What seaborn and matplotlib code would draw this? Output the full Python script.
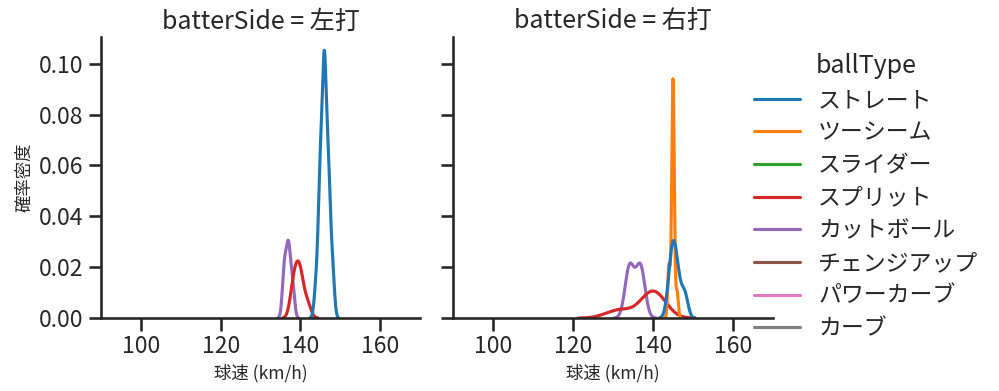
import warnings
import numpy as np
import pandas as pd
import seaborn as sns
import matplotlib
matplotlib.use("Agg")
import matplotlib.pyplot as plt
from matplotlib.ticker import MultipleLocator

warnings.filterwarnings("ignore")

ball_types = ["ストレート", "ツーシーム", "スライダー", "スプリット",
              "カットボール", "チェンジアップ", "パワーカーブ", "カーブ"]
sides = ["左打", "右打"]

# 左打 (vs left-handed batters), km/h
left_straight = [144, 144, 145, 145, 145, 145, 145, 145, 145, 145,
                 146, 146, 146, 146, 146, 146, 146, 146, 146, 146,
                 146, 146, 146, 146, 147, 147, 147, 147, 147, 147,
                 147, 147, 148, 148, 148]
left_cutter = [136, 136, 136, 137, 137, 137, 137, 138, 138]
left_split = [138, 138, 139, 139, 139, 140, 140, 140, 141, 142]
left_slider = [131, 131, 131, 131]
left_change = [128, 128, 128]
left_curve = [112, 112]

# 右打 (vs right-handed batters), km/h
right_straight = [144, 144, 145, 145, 145, 145, 145, 146, 146, 146, 147, 148, 148]
right_twoseam = [144, 144, 145, 145, 145, 145, 145, 145, 145, 145, 145, 146]
right_cutter = [133, 134, 134, 134, 134, 135, 135, 136, 136, 137, 137, 137, 137, 138]
right_split = [129, 132, 133, 137, 138, 139, 139, 140, 140, 141, 141, 142, 143]
right_slider = [130, 130, 130]
right_powercurve = [120, 120]
right_curve = [113, 113]

groups = [
    ("左打", "ストレート", left_straight),
    ("左打", "カットボール", left_cutter),
    ("左打", "スプリット", left_split),
    ("左打", "スライダー", left_slider),
    ("左打", "チェンジアップ", left_change),
    ("左打", "カーブ", left_curve),
    ("右打", "ストレート", right_straight),
    ("右打", "ツーシーム", right_twoseam),
    ("右打", "カットボール", right_cutter),
    ("右打", "スプリット", right_split),
    ("右打", "スライダー", right_slider),
    ("右打", "パワーカーブ", right_powercurve),
    ("右打", "カーブ", right_curve),
]
rows = []
for side, bt, vals in groups:
    for v in vals:
        rows.append({"batterSide": side, "ballType": bt, "球速": float(v)})
df = pd.DataFrame(rows)

sns.set_theme(style="ticks", context="talk")
plt.rcParams["font.family"] = ["Noto Sans CJK JP", "DejaVu Sans"]

g = sns.displot(data=df, x="球速", hue="ballType", col="batterSide", kind="kde",
                hue_order=ball_types, col_order=sides, height=4, aspect=1,
                palette="tab10")
g.set(xlim=(90, 170))
g.set_axis_labels("球速 (km/h)", "確率密度", fontsize=12.5)
g.set_titles("batterSide = {col_name}")
for ax in g.axes.flat:
    ax.yaxis.set_major_locator(MultipleLocator(0.02))
    ax.set_xticks([100, 120, 140, 160])

fig = g.figure
fig.set_size_inches(9.99, 3.91)
W, H = 999, 391
ax1, ax2 = g.axes.flat
ax1.set_position([101 / W, (H - 318) / H, 319 / W, 281 / H])
ax2.set_position([453 / W, (H - 318) / H, 320 / W, 281 / H])
sns.move_legend(g, "center left", bbox_to_anchor=(0.734, 0.497), frameon=False,
                labelspacing=0.42)

fig.savefig("out.png", dpi=100)
